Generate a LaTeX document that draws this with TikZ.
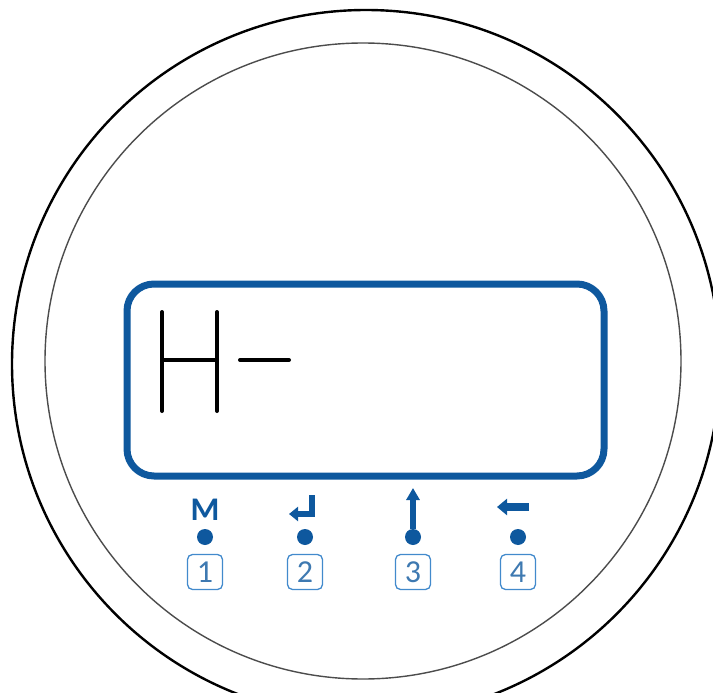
\documentclass[tikz,border=0pt]{standalone}
\usepackage{fontspec}
\setmainfont{Carlito}
\usetikzlibrary{arrows.meta}
\definecolor{lcdblue}{RGB}{14,88,158}
\definecolor{keyblue}{RGB}{66,138,204}

\begin{document}
\begin{tikzpicture}[x=1pt, y=-1pt,
    seg/.style={line width=4pt, line cap=round},
    display/.style={draw=lcdblue, line width=7pt, rounded corners=27pt, minimum width=477pt, minimum height=192pt},
    keybox/.style={draw=keyblue, line width=1.3pt, rounded corners=5pt, minimum size=35pt, inner sep=0pt, text=lcdblue!80, font=\fontsize{32}{32}\selectfont},
    keydot/.style={circle, fill=lcdblue, minimum size=16pt, inner sep=0pt},
    icon/.style={draw=lcdblue, line width=5.5pt, -{Triangle[length=9pt, width=14pt]}}]
    \useasboundingbox (0,0) rectangle (713,693);
    \clip (0,0) rectangle (713,693);
    \draw[line width=2.4pt] (366,364) circle[radius=354pt];
    \draw[black!70, line width=1.4pt] (363,361) circle[radius=318pt];
    \node[display] (lcd) at (365.5,380) {};
    % H-
    \draw[seg] (162,312) -- (162,411);
    \draw[seg] (217,312) -- (217,411);
    \draw[seg] (162,360) -- (217,360);
    \draw[seg] (240,360) -- (289,360);
    % keys
    \foreach \i/\x in {1/205,2/305,3/413,4/518} {
        \node[keydot] (dot\i) at (\x,537) {};
        \node[keybox] (key\i) at (\x,572) {\i};
    }
    \node[text=lcdblue, font=\fontsize{33}{33}\selectfont\bfseries] (mode) at (205,510) {M};
    \draw[icon, sharp corners] (312,495) -- (312,514) -- (289,514);
    \draw[icon, line width=6pt, -{Triangle[length=12pt, width=13pt]}] (dot3.north) -- (413,488);
    \draw[icon, line width=8pt, -{Triangle[length=10pt, width=16pt]}] (529,507) -- (497,507);
\end{tikzpicture}
\end{document}
